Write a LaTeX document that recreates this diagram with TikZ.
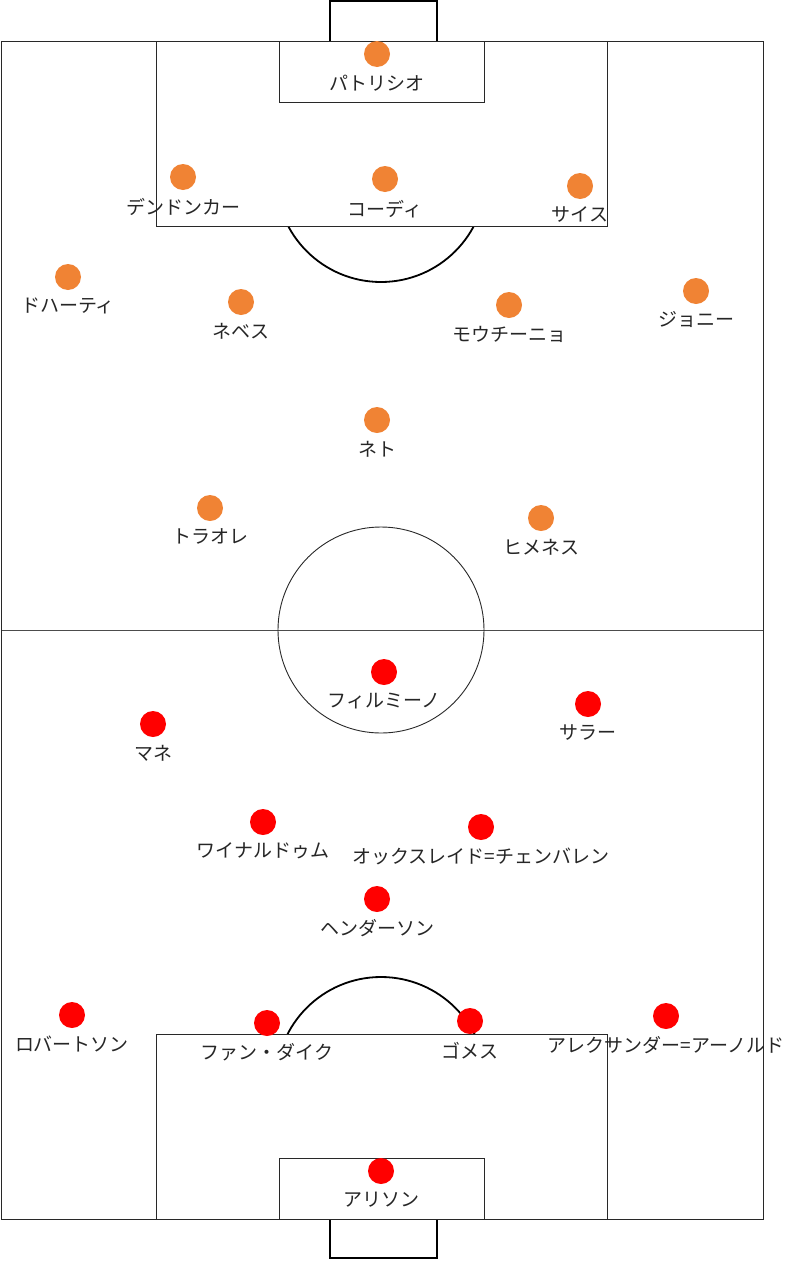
\documentclass[tikz,border=0pt]{standalone}
\usepackage{fontspec}
\newfontfamily\jpfont{Noto Sans CJK JP}
\definecolor{wolvesorange}{RGB}{240,131,52}
\definecolor{liverred}{RGB}{255,0,0}
\definecolor{linegray}{RGB}{40,40,40}

\begin{document}
\begin{tikzpicture}[x=1pt, y=-1pt,
    pitch/.style={draw=linegray, line width=0.9pt},
    goalbox/.style={draw=black, line width=1.8pt},
    penarc/.style={draw=black, line width=1.8pt},
    halfway/.style={draw=black!70, line width=0.6pt},
    player/.style={circle, minimum size=26pt, inner sep=0pt},
    wolves/.style={player, fill=wolvesorange},
    pool/.style={player, fill=liverred},
    pname/.style={font=\jpfont\fontsize{19}{21}\selectfont, text=black!85, inner sep=0pt},
    every label/.style={pname},
    label distance=7.5pt]

\useasboundingbox (0,0) rectangle (800,1261);

% ===================== PITCH =====================
% Goals
\draw[goalbox] (330,41) -- (330,1) -- (437,1) -- (437,41);
\draw[goalbox] (330,1219) -- (330,1258) -- (437,1258) -- (437,1219);

% Penalty arcs (outside the boxes only)
\begin{scope}
    \clip (0,226) rectangle (800,400);
    \draw[penarc] (381,177) circle[radius=105];
\end{scope}
\begin{scope}
    \clip (0,900) rectangle (800,1034);
    \draw[penarc] (381,1082) circle[radius=105];
\end{scope}

% Halfway line and centre circle
\draw[halfway] (1,630) -- (763,630);
\draw[pitch] (381,630) circle[radius=103];

% Outline, penalty areas, goal areas
\draw[pitch] (1,41) rectangle (763,1219);
\draw[pitch] (156,41) rectangle (607,226);
\draw[pitch] (279,41) rectangle (484,102);
\draw[pitch] (156,1034) rectangle (607,1219);
\draw[pitch] (279,1158) rectangle (484,1219);

% ===================== WOLVES (TOP) =====================
\node[wolves, label=below:パトリシオ] (patricio) at (377,54) {};

\node[wolves, label=below:デンドンカー] (dendoncker) at (183,177) {};
\node[wolves, label=below:コーディ] (coady) at (385,179) {};
\node[wolves, label=below:サイス] (saiss) at (580,186) {};

\node[wolves, label=below:ドハーティ] (doherty) at (68,277) {};
\node[wolves, label=below:ネベス] (neves) at (241,302) {};
\node[wolves, label=below:モウチーニョ] (moutinho) at (509,305) {};
\node[wolves, label=below:ジョニー] (jonny) at (696,291) {};

\node[wolves, label=below:ネト] (neto) at (377,420) {};

\node[wolves, label=below:トラオレ] (traore) at (210,508) {};
\node[wolves, label=below:ヒメネス] (jimenez) at (541,518) {};

% ===================== LIVERPOOL (BOTTOM) =====================
\node[pool, label=below:フィルミーノ] (firmino) at (384,672) {};
\node[pool, label=below:マネ] (mane) at (153,724) {};
\node[pool, label=below:サラー] (salah) at (588,704) {};

\node[pool, label=below:ワイナルドゥム] (wijnaldum) at (263,822) {};
\node[pool, label={below:{オックスレイド=チェンバレン}}] (chamberlain) at (481,827) {};
\node[pool, label=below:ヘンダーソン] (henderson) at (377,899) {};

\node[pool, label=below:ロバートソン] (robertson) at (72,1015) {};
\node[pool, label=below:ファン・ダイク] (vandijk) at (267,1023) {};
\node[pool, label=below:ゴメス] (gomez) at (470,1021) {};
\node[pool, label={below:{アレクサンダー=アーノルド}}] (arnold) at (666,1016) {};

\node[pool, label=below:アリソン] (alisson) at (381,1171) {};

\end{tikzpicture}
\end{document}
